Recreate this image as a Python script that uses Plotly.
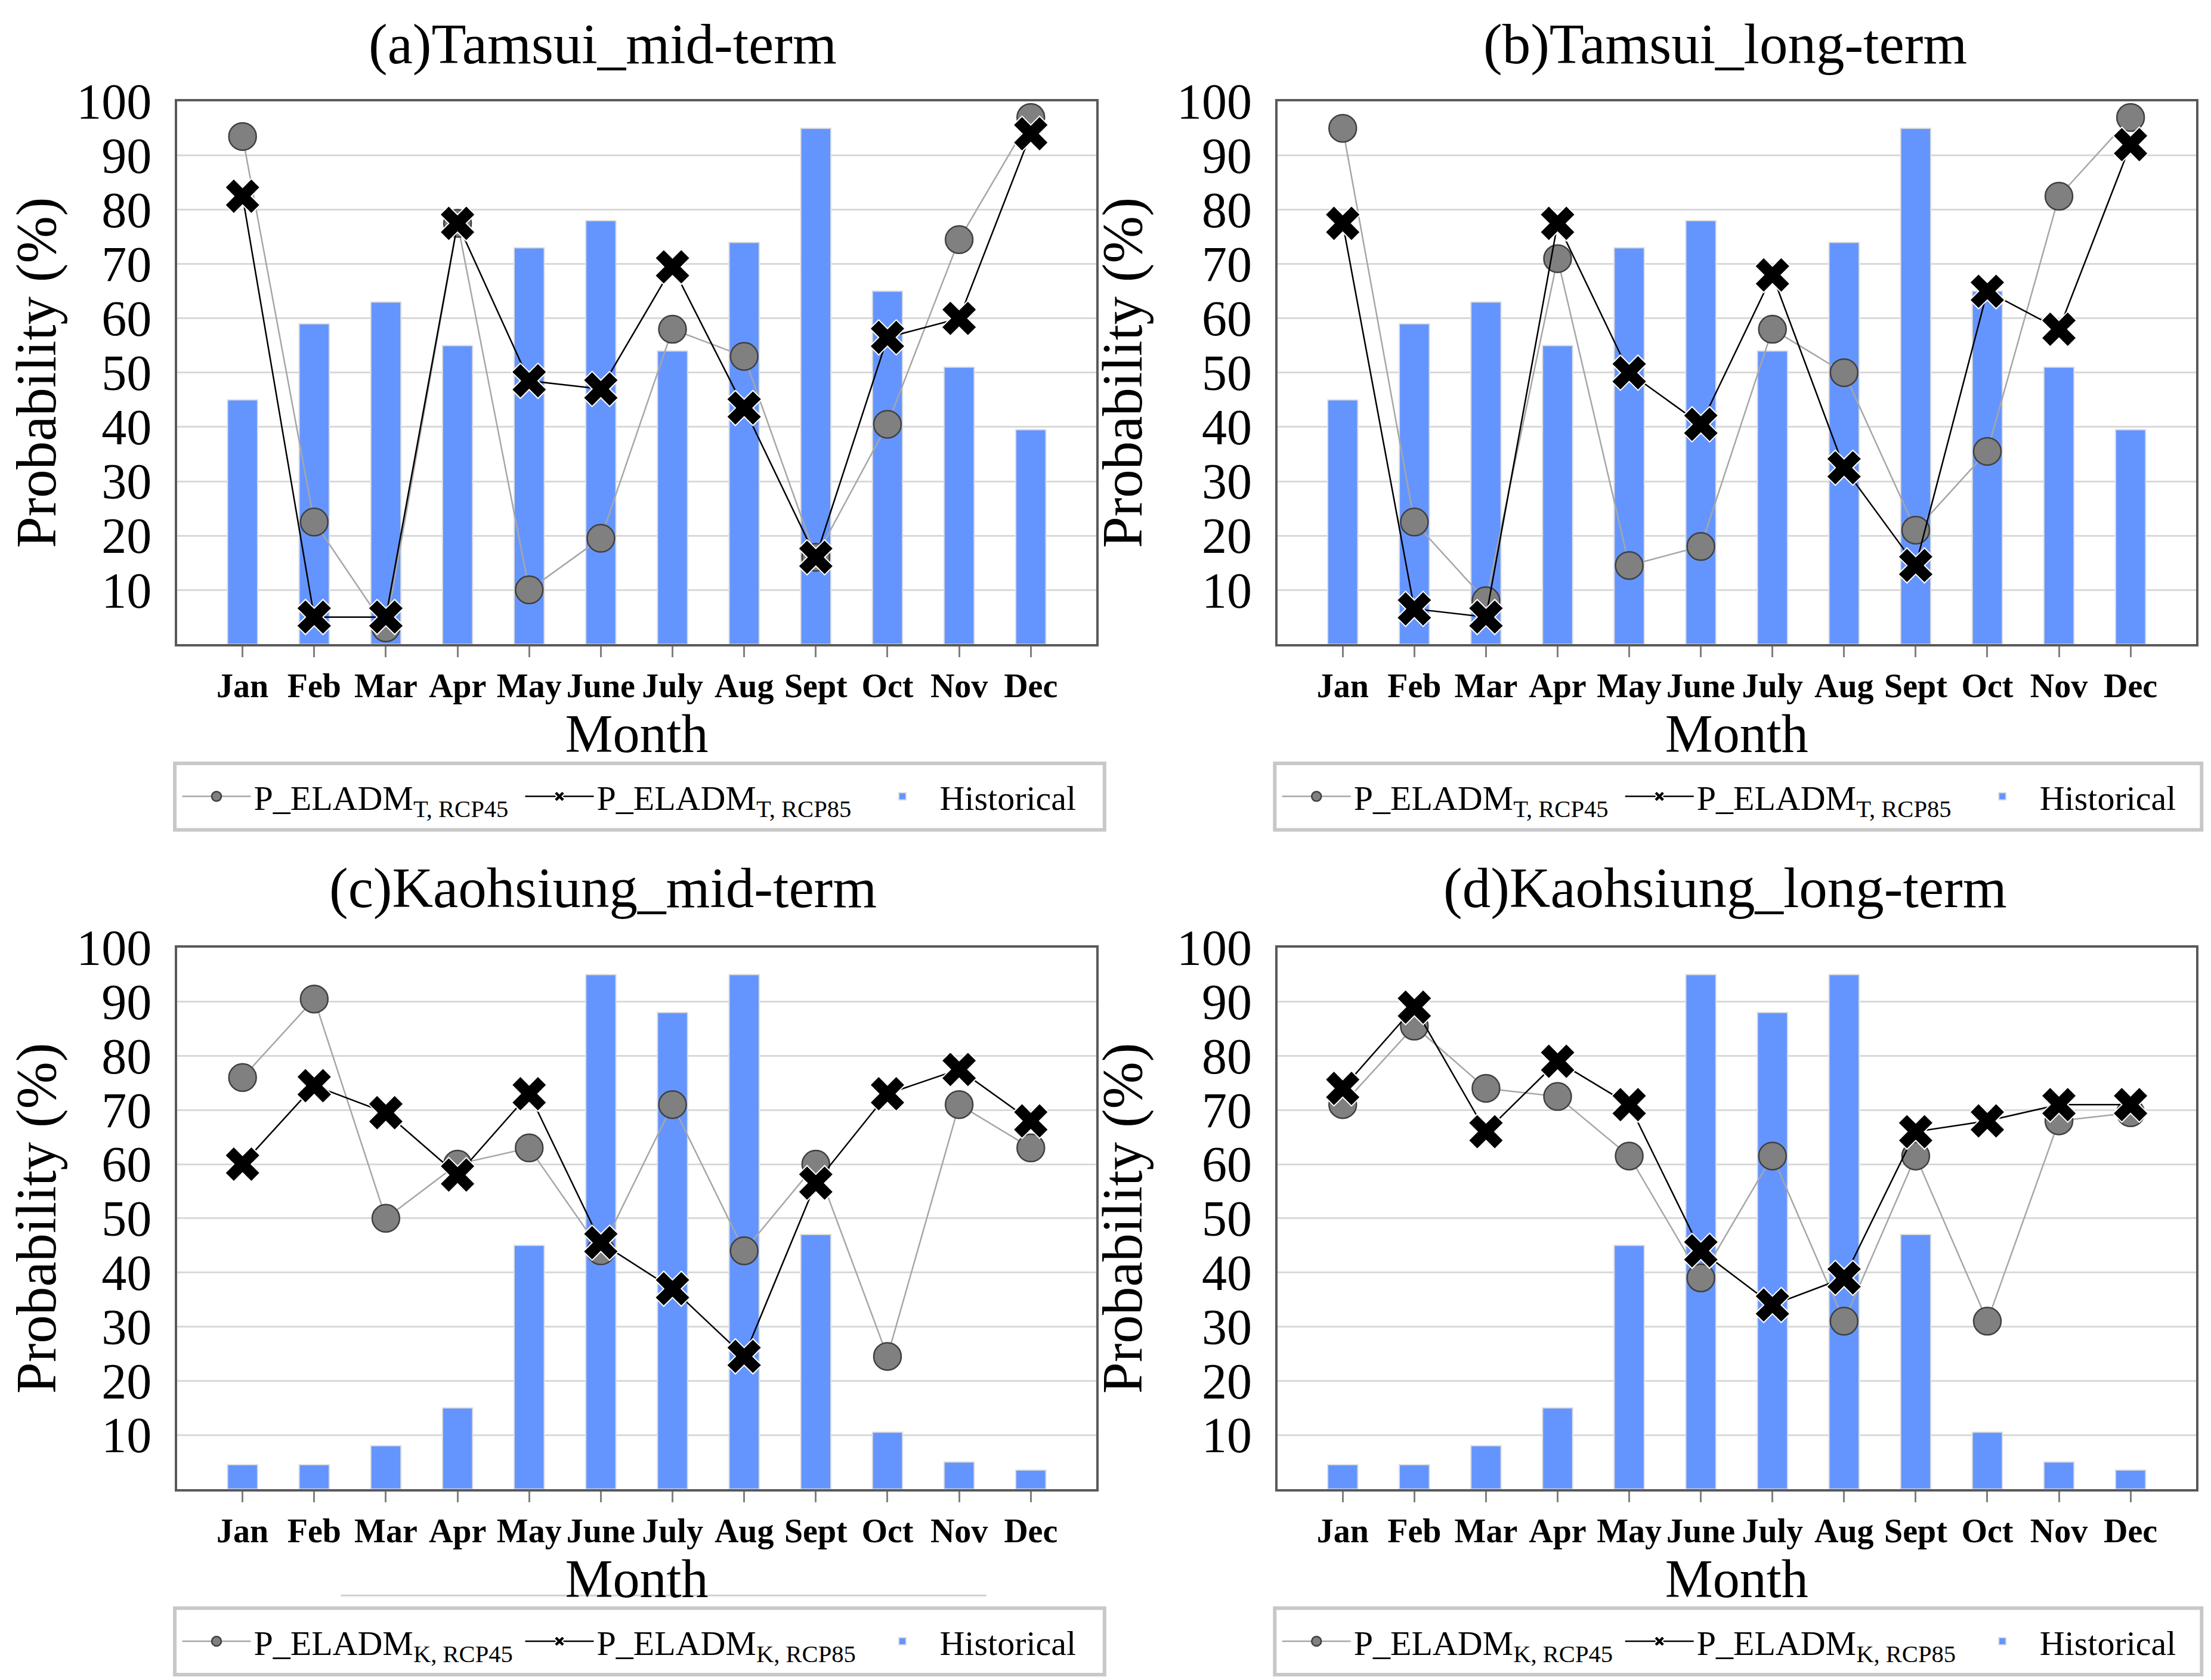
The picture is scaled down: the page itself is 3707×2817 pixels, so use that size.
import plotly.graph_objects as go

months = ["Jan", "Feb", "Mar", "Apr", "May", "June", "July", "Aug", "Sept", "Oct", "Nov", "Dec"]

# historical probability (%) per station
hist_tamsui = [45, 59, 63, 55, 73, 78, 54, 74, 95, 65, 51, 39.5]
hist_kaohsiung = [4.5, 4.5, 8, 15, 45, 95, 88, 95, 47, 10.5, 5, 3.5]

# (a) Tamsui mid-term
a_rcp45 = [93.5, 22.5, 3, 77.5, 10, 19.5, 58, 53, 16, 40.5, 74.5, 97]
a_rcp85 = [82.5, 5, 5, 77.5, 48.5, 47, 69.5, 43.5, 16, 56.5, 60, 94]
# (b) Tamsui long-term
b_rcp45 = [95, 22.5, 8, 71, 14.5, 18, 58, 50, 21, 35.5, 82.5, 97]
b_rcp85 = [77.5, 6.5, 5, 77.5, 50, 40.5, 68, 32.5, 14.5, 65, 58, 92]
# (c) Kaohsiung mid-term
c_rcp45 = [76, 90.5, 50, 60, 63, 44, 71, 44, 60, 24.5, 71, 63]
c_rcp85 = [60, 74.5, 69.5, 58, 73, 45.5, 37, 24.5, 56.5, 73, 77.5, 68]
# (d) Kaohsiung long-term
d_rcp45 = [71, 85.5, 74, 72.5, 61.5, 39, 61.5, 31, 61.5, 31, 68, 69.5]
d_rcp85 = [74, 89, 66, 79, 71, 44, 34, 39, 66, 68, 71, 71]

titles = ["(a)Tamsui_mid-term", "(b)Tamsui_long-term",
          "(c)Kaohsiung_mid-term", "(d)Kaohsiung_long-term"]
yticks = [10, 20, 30, 40, 50, 60, 70, 80, 90, 100]

FONT = "Liberation Serif"

# xd/yd: plot area, tx/ty: title centre, box: legend frame (x0, x1, y0, y1)
panels = [
    dict(title=titles[0], hist=hist_tamsui, r45=a_rcp45, r85=a_rcp85, sub="T",
         xd=[0.078, 0.4936], yd=[0.6194, 0.9426], tx=0.2705, ty=0.9764,
         box=[0.0769, 0.4974, 0.5089, 0.5485]),
    dict(title=titles[1], hist=hist_tamsui, r45=b_rcp45, r85=b_rcp85, sub="T",
         xd=[0.5756, 0.991], yd=[0.6194, 0.9426], tx=0.778, ty=0.9764,
         box=[0.5744, 0.9936, 0.5089, 0.5485]),
    dict(title=titles[2], hist=hist_kaohsiung, r45=c_rcp45, r85=c_rcp85, sub="K",
         xd=[0.078, 0.4936], yd=[0.1165, 0.4388], tx=0.2705, ty=0.4743,
         box=[0.0769, 0.4974, 0.0060, 0.0456]),
    dict(title=titles[3], hist=hist_kaohsiung, r45=d_rcp45, r85=d_rcp85, sub="K",
         xd=[0.5756, 0.991], yd=[0.1165, 0.4388], tx=0.778, ty=0.4743,
         box=[0.5744, 0.9936, 0.0060, 0.0456]),
]

fig = go.Figure()
layout = dict(
    width=3707, height=2817,
    margin=dict(l=0, r=0, t=0, b=0, autoexpand=False),
    paper_bgcolor="white", plot_bgcolor="white",
    font=dict(family=FONT, color="black"),
    annotations=[], shapes=[],
)

for i, p in enumerate(panels):
    n = "" if i == 0 else str(i + 1)
    xa, ya = "x" + n, "y" + n
    lg = "legend" + n
    fig.add_trace(go.Bar(
        x=months, y=p["hist"], name="Historical", width=0.42,
        marker=dict(color="#6495FF", line=dict(color="#dcdcdc", width=2)),
        xaxis=xa, yaxis=ya, legend=lg, legendrank=3))
    fig.add_trace(go.Scatter(
        x=months, y=p["r45"], mode="lines+markers",
        name="P_ELADM<sub>%s, RCP45</sub>" % p["sub"],
        line=dict(color="#a6a6a6", width=2.5),
        marker=dict(symbol="circle", size=46, color="#808080",
                    line=dict(color="#404040", width=2.5)),
        xaxis=xa, yaxis=ya, legend=lg, legendrank=1))
    fig.add_trace(go.Scatter(
        x=months, y=p["r85"], mode="lines+markers",
        name="P_ELADM<sub>%s, RCP85</sub>" % p["sub"],
        line=dict(color="black", width=2.5),
        marker=dict(symbol="x", size=52, color="black",
                    line=dict(color="white", width=2)),
        xaxis=xa, yaxis=ya, legend=lg, legendrank=2))

    layout["xaxis" + n] = dict(
        domain=p["xd"], anchor=ya, type="category", tickangle=0,
        showline=True, linecolor="#595959", linewidth=4, mirror=True,
        ticks="outside", ticklen=18, tickwidth=3, tickcolor="#7f7f7f",
        tickfont=dict(family=FONT, size=56, color="black", weight="bold"),
        title=dict(text="Month", font=dict(family=FONT, size=90), standoff=2),
        showgrid=False, automargin=False)
    layout["yaxis" + n] = dict(
        domain=p["yd"], anchor=xa, range=[0, 100], tickvals=yticks,
        showline=True, linecolor="#595959", linewidth=4, mirror=True,
        ticks="", ticklabelstandoff=22,
        tickfont=dict(family=FONT, size=84, color="black"),
        title=dict(text="Probability (%)", font=dict(family=FONT, size=95), standoff=28),
        showgrid=True, gridcolor="#d9d9d9", gridwidth=3, zeroline=False,
        automargin=False)
    bx0, bx1, by0, by1 = p["box"]
    layout[lg] = dict(
        orientation="h", x=bx0 + 0.002, y=(by0 + by1) / 2,
        xanchor="left", yanchor="middle",
        borderwidth=0, bgcolor="rgba(0,0,0,0)",
        font=dict(family=FONT, size=58, color="black"),
        itemwidth=115, entrywidth=445, tracegroupgap=0)
    layout["shapes"].append(dict(
        type="rect", xref="paper", yref="paper", x0=bx0, x1=bx1, y0=by0, y1=by1,
        line=dict(color="#c8c8c8", width=6), layer="below"))
    layout["annotations"].append(dict(
        text=p["title"], x=p["tx"], y=p["ty"], xref="paper", yref="paper",
        xanchor="center", yanchor="middle", showarrow=False,
        font=dict(family=FONT, size=95, color="black")))

# faint stray rule under panel (c)
layout["shapes"].append(dict(type="line", xref="paper", yref="paper",
                             x0=0.152, x1=0.444, y0=0.0532, y1=0.0532,
                             line=dict(color="#d0d0d0", width=3)))

fig.update_layout(**layout)
fig.write_html("out.html")
